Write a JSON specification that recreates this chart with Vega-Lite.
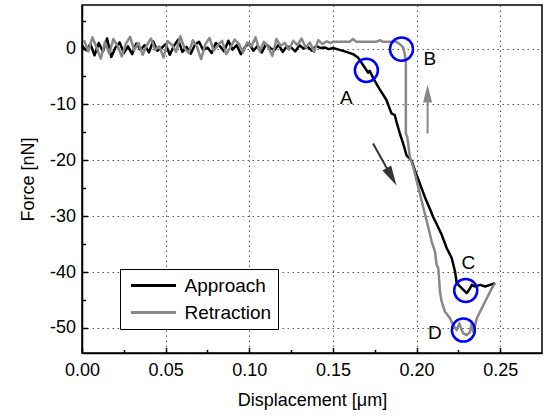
{
 "$schema": "https://vega.github.io/schema/vega-lite/v6.json",
 "width": 460, "height": 348,
 "autosize": "none",
 "padding": {"left": 82, "top": 5, "right": 2, "bottom": 64},
 "background": "white",
 "config": {
  "font": "Liberation Sans",
  "view": {"stroke": "black", "strokeWidth": 1.5},
  "axis": {"domainColor": "black", "domainWidth": 1.5, "tickColor": "black", "tickWidth": 1.5, "labelColor": "black", "titleColor": "black", "labelFontSize": 18, "titleFontSize": 18, "titleFontWeight": "normal", "gridColor": "#555555", "gridDash": [1.5, 3.5], "gridWidth": 1, "labelFlush": false, "labelOverlap": false}
 },
 "datasets": {
  "curves": [
   {"s":"Approach","x":0,"y":0.5},{"s":"Approach","x":0.0025,"y":-0.3},{"s":"Approach","x":0.005,"y":0.8},{"s":"Approach","x":0.0075,"y":-1.2},{"s":"Approach","x":0.01,"y":1.0},{"s":"Approach","x":0.0125,"y":-0.5},{"s":"Approach","x":0.015,"y":1.8},{"s":"Approach","x":0.0175,"y":-1.5},{"s":"Approach","x":0.02,"y":0.2},{"s":"Approach","x":0.0225,"y":1.1},
   {"s":"Approach","x":0.025,"y":-0.8},{"s":"Approach","x":0.0275,"y":0.4},{"s":"Approach","x":0.03,"y":-1.0},{"s":"Approach","x":0.0325,"y":0.9},{"s":"Approach","x":0.035,"y":-0.2},{"s":"Approach","x":0.0375,"y":0.6},{"s":"Approach","x":0.04,"y":-0.7},{"s":"Approach","x":0.0425,"y":1.3},{"s":"Approach","x":0.045,"y":-0.4},{"s":"Approach","x":0.0475,"y":0.1},
   {"s":"Approach","x":0.05,"y":0.8},{"s":"Approach","x":0.0525,"y":-1.1},{"s":"Approach","x":0.055,"y":0.5},{"s":"Approach","x":0.0575,"y":1.6},{"s":"Approach","x":0.06,"y":-0.6},{"s":"Approach","x":0.0625,"y":0.3},{"s":"Approach","x":0.065,"y":-0.9},{"s":"Approach","x":0.0675,"y":0.7},{"s":"Approach","x":0.07,"y":1.2},{"s":"Approach","x":0.0725,"y":-0.3},
   {"s":"Approach","x":0.075,"y":0.2},{"s":"Approach","x":0.0775,"y":-0.8},{"s":"Approach","x":0.08,"y":1.0},{"s":"Approach","x":0.0825,"y":0.4},{"s":"Approach","x":0.085,"y":-0.5},{"s":"Approach","x":0.0875,"y":1.4},{"s":"Approach","x":0.09,"y":-0.2},{"s":"Approach","x":0.0925,"y":0.6},{"s":"Approach","x":0.095,"y":-1.0},{"s":"Approach","x":0.0975,"y":0.3},
   {"s":"Approach","x":0.1,"y":0.9},{"s":"Approach","x":0.1025,"y":-0.4},{"s":"Approach","x":0.105,"y":0.5},{"s":"Approach","x":0.1075,"y":-0.7},{"s":"Approach","x":0.11,"y":0.8},{"s":"Approach","x":0.1125,"y":0.1},{"s":"Approach","x":0.115,"y":-0.3},{"s":"Approach","x":0.1175,"y":0.7},{"s":"Approach","x":0.12,"y":-0.6},{"s":"Approach","x":0.1225,"y":0.4},
   {"s":"Approach","x":0.125,"y":0.2},{"s":"Approach","x":0.1275,"y":-0.5},{"s":"Approach","x":0.13,"y":0.6},{"s":"Approach","x":0.1325,"y":0.0},{"s":"Approach","x":0.135,"y":0.3},{"s":"Approach","x":0.1375,"y":-0.4},{"s":"Approach","x":0.14,"y":0.5},{"s":"Approach","x":0.1425,"y":0.1},{"s":"Approach","x":0.145,"y":0.2},{"s":"Approach","x":0.1475,"y":-0.1},
   {"s":"Approach","x":0.15,"y":0.1},{"s":"Approach","x":0.154,"y":-0.24},{"s":"Approach","x":0.158,"y":-0.6},{"s":"Approach","x":0.162,"y":-1.0},{"s":"Approach","x":0.165,"y":-1.6},{"s":"Approach","x":0.167,"y":-2.5},{"s":"Approach","x":0.169,"y":-3.4},{"s":"Approach","x":0.171,"y":-4.3},{"s":"Approach","x":0.172,"y":-4.0},{"s":"Approach","x":0.173,"y":-4.6},
   {"s":"Approach","x":0.175,"y":-5.8},{"s":"Approach","x":0.178,"y":-7.3},{"s":"Approach","x":0.182,"y":-9.2},{"s":"Approach","x":0.185,"y":-11.6},{"s":"Approach","x":0.187,"y":-11.9},{"s":"Approach","x":0.188,"y":-13.1},{"s":"Approach","x":0.19,"y":-15.2},{"s":"Approach","x":0.192,"y":-17.0},{"s":"Approach","x":0.194,"y":-19.1},{"s":"Approach","x":0.197,"y":-20.0},
   {"s":"Approach","x":0.199,"y":-21.8},{"s":"Approach","x":0.202,"y":-24.2},{"s":"Approach","x":0.205,"y":-26.6},{"s":"Approach","x":0.208,"y":-28.7},{"s":"Approach","x":0.21,"y":-30.2},{"s":"Approach","x":0.212,"y":-31.4},{"s":"Approach","x":0.215,"y":-33.3},{"s":"Approach","x":0.218,"y":-35.7},{"s":"Approach","x":0.221,"y":-37.5},{"s":"Approach","x":0.223,"y":-39.9},
   {"s":"Approach","x":0.224,"y":-42.0},{"s":"Approach","x":0.227,"y":-42.9},{"s":"Approach","x":0.23,"y":-43.8},{"s":"Approach","x":0.232,"y":-42.9},{"s":"Approach","x":0.233,"y":-42.3},{"s":"Approach","x":0.235,"y":-42.6},{"s":"Approach","x":0.238,"y":-42.3},{"s":"Approach","x":0.241,"y":-42.6},{"s":"Approach","x":0.244,"y":-42.3},{"s":"Approach","x":0.247,"y":-42.0},
   {"s":"Retraction","x":0.00125,"y":1.5},{"s":"Retraction","x":0.00375,"y":-0.5},{"s":"Retraction","x":0.00625,"y":2.0},{"s":"Retraction","x":0.00875,"y":0.2},{"s":"Retraction","x":0.01125,"y":-1.8},{"s":"Retraction","x":0.01375,"y":1.2},{"s":"Retraction","x":0.01625,"y":-0.9},{"s":"Retraction","x":0.01875,"y":1.7},{"s":"Retraction","x":0.02125,"y":0.5},{"s":"Retraction","x":0.02375,"y":-1.4},
   {"s":"Retraction","x":0.02625,"y":0.9},{"s":"Retraction","x":0.02875,"y":2.1},{"s":"Retraction","x":0.03125,"y":-0.3},{"s":"Retraction","x":0.03375,"y":1.0},{"s":"Retraction","x":0.03625,"y":-1.1},{"s":"Retraction","x":0.03875,"y":0.6},{"s":"Retraction","x":0.04125,"y":1.8},{"s":"Retraction","x":0.04375,"y":-0.2},{"s":"Retraction","x":0.04625,"y":0.4},{"s":"Retraction","x":0.04875,"y":-1.6},
   {"s":"Retraction","x":0.05125,"y":1.3},{"s":"Retraction","x":0.05375,"y":0.7},{"s":"Retraction","x":0.05625,"y":-0.6},{"s":"Retraction","x":0.05875,"y":2.2},{"s":"Retraction","x":0.06125,"y":0.1},{"s":"Retraction","x":0.06375,"y":-0.8},{"s":"Retraction","x":0.06625,"y":1.5},{"s":"Retraction","x":0.06875,"y":0.3},{"s":"Retraction","x":0.07125,"y":-1.9},{"s":"Retraction","x":0.07375,"y":0.8},
   {"s":"Retraction","x":0.07625,"y":1.9},{"s":"Retraction","x":0.07875,"y":-0.4},{"s":"Retraction","x":0.08125,"y":0.6},{"s":"Retraction","x":0.08375,"y":1.4},{"s":"Retraction","x":0.08625,"y":-1.0},{"s":"Retraction","x":0.08875,"y":0.2},{"s":"Retraction","x":0.09125,"y":1.6},{"s":"Retraction","x":0.09375,"y":0.9},{"s":"Retraction","x":0.09625,"y":-0.7},{"s":"Retraction","x":0.09875,"y":1.1},
   {"s":"Retraction","x":0.10125,"y":0.4},{"s":"Retraction","x":0.10375,"y":2.0},{"s":"Retraction","x":0.10625,"y":-0.5},{"s":"Retraction","x":0.10875,"y":1.2},{"s":"Retraction","x":0.11125,"y":0.3},{"s":"Retraction","x":0.11375,"y":-1.3},{"s":"Retraction","x":0.11625,"y":1.7},{"s":"Retraction","x":0.11875,"y":0.5},{"s":"Retraction","x":0.12125,"y":1.0},{"s":"Retraction","x":0.12375,"y":-0.2},
   {"s":"Retraction","x":0.12625,"y":1.4},{"s":"Retraction","x":0.12875,"y":0.6},{"s":"Retraction","x":0.13125,"y":1.8},{"s":"Retraction","x":0.13375,"y":0.2},{"s":"Retraction","x":0.13625,"y":1.1},{"s":"Retraction","x":0.13875,"y":-0.6},{"s":"Retraction","x":0.14125,"y":1.5},{"s":"Retraction","x":0.14375,"y":0.8},{"s":"Retraction","x":0.14625,"y":1.3},{"s":"Retraction","x":0.14875,"y":1.0},
   {"s":"Retraction","x":0.15,"y":1.2},{"s":"Retraction","x":0.16,"y":1.2},{"s":"Retraction","x":0.162,"y":1.7},{"s":"Retraction","x":0.164,"y":1.2},{"s":"Retraction","x":0.176,"y":1.2},{"s":"Retraction","x":0.178,"y":1.5},{"s":"Retraction","x":0.18,"y":1.2},{"s":"Retraction","x":0.188,"y":1.2},{"s":"Retraction","x":0.19,"y":0.8},{"s":"Retraction","x":0.192,"y":0.2},
   {"s":"Retraction","x":0.193,"y":-1.0},{"s":"Retraction","x":0.1936,"y":-2.5},{"s":"Retraction","x":0.1936,"y":-15.2},{"s":"Retraction","x":0.1944,"y":-15.8},{"s":"Retraction","x":0.195,"y":-17.0},{"s":"Retraction","x":0.196,"y":-19.4},{"s":"Retraction","x":0.198,"y":-21.2},{"s":"Retraction","x":0.2,"y":-23.6},{"s":"Retraction","x":0.201,"y":-24.8},{"s":"Retraction","x":0.203,"y":-27.2},
   {"s":"Retraction","x":0.205,"y":-29.6},{"s":"Retraction","x":0.207,"y":-32.0},{"s":"Retraction","x":0.209,"y":-34.5},{"s":"Retraction","x":0.211,"y":-36.3},{"s":"Retraction","x":0.212,"y":-38.7},{"s":"Retraction","x":0.213,"y":-39.3},{"s":"Retraction","x":0.214,"y":-43.5},{"s":"Retraction","x":0.215,"y":-45.3},{"s":"Retraction","x":0.217,"y":-47.1},{"s":"Retraction","x":0.22,"y":-48.3},
   {"s":"Retraction","x":0.222,"y":-49.5},{"s":"Retraction","x":0.224,"y":-50.4},{"s":"Retraction","x":0.2256,"y":-49.2},{"s":"Retraction","x":0.227,"y":-50.4},{"s":"Retraction","x":0.228,"y":-51.0},{"s":"Retraction","x":0.23,"y":-51.3},{"s":"Retraction","x":0.232,"y":-50.7},{"s":"Retraction","x":0.233,"y":-49.2},{"s":"Retraction","x":0.234,"y":-50.7},{"s":"Retraction","x":0.236,"y":-48.3},
   {"s":"Retraction","x":0.239,"y":-46.5},{"s":"Retraction","x":0.242,"y":-44.7},{"s":"Retraction","x":0.245,"y":-42.9},{"s":"Retraction","x":0.247,"y":-42.0}
  ],
  "circles": [{"x":0.17,"y":-3.9},{"x":0.191,"y":-0.1},{"x":0.2294,"y":-43.3},{"x":0.228,"y":-50.4}],
  "labels": [{"t":"A","x":0.158,"y":-8.9},{"t":"B","x":0.208,"y":-1.9},{"t":"C","x":0.231,"y":-38.4},{"t":"D","x":0.211,"y":-51.0}],
  "arrowDown": [{"x":0.174,"y":-17.0,"x2":0.1851,"y2":-22.94}],
  "arrowUp": [{"x":0.2066,"y":-15.2,"x2":0.2066,"y2":-8.05}]
 },
 "encoding": {
  "x": {"field": "x", "type": "quantitative", "title": "Displacement [μm]",
   "scale": {"domain": [0, 0.275], "nice": false, "zero": false},
   "axis": {"values": [0,0.025,0.05,0.075,0.1,0.125,0.15,0.175,0.2,0.225,0.25],
    "labelExpr": "abs(datum.value*20-round(datum.value*20))<0.01 ? format(datum.value,'.2f') : ''",
    "tickSize": {"condition": {"test": "abs(datum.value*20-round(datum.value*20))>0.01", "value": -3.5}, "value": -5.5},
    "gridOpacity": {"condition": {"test": "abs(datum.value*20-round(datum.value*20))>0.01", "value": 0}, "value": 1},
    "labelPadding": 14, "titlePadding": 10}},
  "y": {"field": "y", "type": "quantitative", "title": "Force [nN]",
   "scale": {"domain": [-54.5, 7.8], "nice": false, "zero": false},
   "axis": {"values": [-50,-45,-40,-35,-30,-25,-20,-15,-10,-5,0,5],
    "labelExpr": "datum.value % 10 == 0 ? '' + datum.value : ''",
    "tickSize": {"condition": {"test": "datum.value % 10 != 0", "value": -3.5}, "value": -5.5},
    "gridOpacity": {"condition": {"test": "datum.value % 10 != 0", "value": 0}, "value": 1},
    "labelPadding": 12, "titlePadding": 12}}
 },
 "layer": [
  {"data": {"name": "curves"},
   "mark": {"type": "line", "strokeWidth": 2.5, "strokeJoin": "round"},
   "encoding": {
    "color": {"field": "s", "type": "nominal",
     "scale": {"domain": ["Approach", "Retraction"], "range": ["#000000", "#888888"]},
     "legend": {"title": null, "orient": "none", "legendX": 38, "legendY": 264, "fillColor": "white", "strokeColor": "black", "padding": 6, "symbolType": "M-2.5,0L2.5,0", "symbolSize": 324, "symbolOffset": 17, "symbolStrokeWidth": 3, "labelFontSize": 19, "labelOffset": 20.5, "rowPadding": 6, "cornerRadius": 0}},
    "order": {"value": null}}},
  {"data": {"name": "arrowDown"},
   "mark": {"type": "rule", "color": "#333333", "strokeWidth": 2},
   "encoding": {"x2": {"field": "x2"}, "y2": {"field": "y2"}}},
  {"data": {"name": "arrowDown"},
   "mark": {"type": "point", "shape": "M0,1L-0.5,-1L0.5,-1Z", "filled": true, "color": "#333333", "size": 400, "angle": -29, "opacity": 1},
   "encoding": {"x": {"field": "x2", "type": "quantitative"}, "y": {"field": "y2", "type": "quantitative"}}},
  {"data": {"name": "arrowUp"},
   "mark": {"type": "rule", "color": "#888888", "strokeWidth": 2},
   "encoding": {"x2": {"field": "x2"}, "y2": {"field": "y2"}}},
  {"data": {"name": "arrowUp"},
   "mark": {"type": "point", "shape": "M0,1L-0.5,-1L0.5,-1Z", "filled": true, "color": "#888888", "size": 324, "angle": 180, "opacity": 1},
   "encoding": {"x": {"field": "x2", "type": "quantitative"}, "y": {"field": "y2", "type": "quantitative"}}},
  {"data": {"name": "circles"},
   "mark": {"type": "point", "filled": false, "color": "#0000ff", "strokeWidth": 2.5, "size": 531, "opacity": 1}},
  {"data": {"name": "labels"},
   "mark": {"type": "text", "fontSize": 19, "color": "black"},
   "encoding": {"text": {"field": "t"}}}
 ]
}
